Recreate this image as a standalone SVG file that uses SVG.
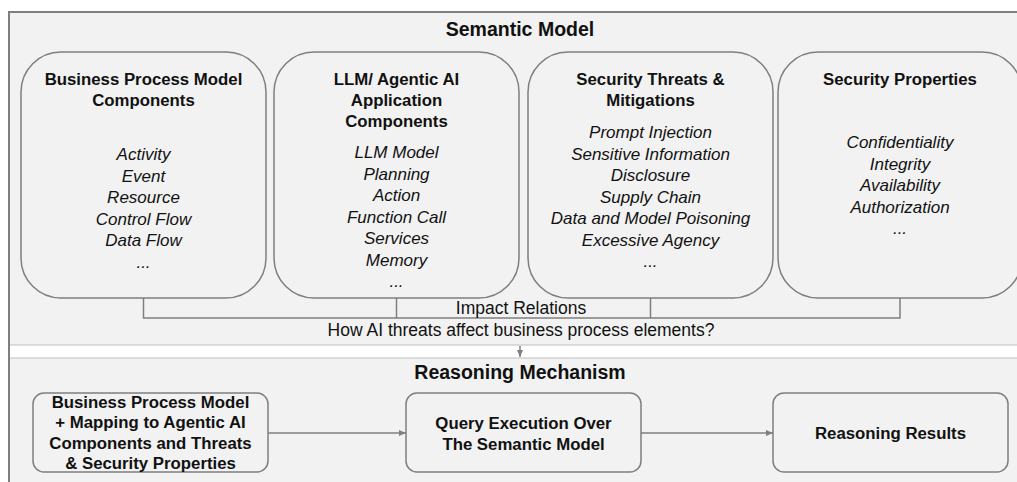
<svg xmlns="http://www.w3.org/2000/svg" width="1017" height="482" viewBox="0 0 1017 482">
<defs>
<style>
.bg{fill:#f2f2f2;stroke:#7f7f7f;stroke-width:2}
.box{fill:#f2f2f2;stroke:#7f7f7f;stroke-width:1.5}
.div{stroke:#bfbfbf;stroke-width:1.2;fill:none}
.ln{stroke:#7f7f7f;stroke-width:1.5;fill:none}
text{font-family:"Liberation Sans",Arial,sans-serif;fill:#111;text-anchor:middle}
.sec{font-size:19.5px;font-weight:bold}
.ttl{font-size:16.8px;font-weight:bold}
.it{font-size:17px;font-style:italic}
.lab{font-size:17.5px}
</style>
<marker id="ah" markerWidth="7" markerHeight="6" refX="7" refY="3" orient="auto" markerUnits="userSpaceOnUse">
<path d="M0,0 L7,3 L0,6 Z" fill="#7f7f7f"/>
</marker>
</defs>
<rect width="1017" height="482" fill="#ffffff"/>
<g id="semantic-model">
<rect class="bg" x="9" y="12" width="1020" height="480"/>
<rect x="10" y="345" width="1010" height="13" fill="#ffffff"/>
<line class="div" x1="10" y1="345" x2="1017" y2="345"/>
<line class="div" x1="10" y1="358" x2="1017" y2="358"/>
<line x1="9" y1="340" x2="9" y2="482" stroke="#7f7f7f" stroke-width="2"/>
<text class="sec" x="520" y="36">Semantic Model</text>
</g>
<g id="bpm-components">
<rect class="box" x="21" y="52" width="245" height="246" rx="40" ry="40"/>
<text class="ttl" x="143.5" y="85">Business Process Model</text>
<text class="ttl" x="143.5" y="106">Components</text>
<text class="it" x="143.5" y="160">Activity</text>
<text class="it" x="143.5" y="181.5">Event</text>
<text class="it" x="143.5" y="203">Resource</text>
<text class="it" x="143.5" y="224.5">Control Flow</text>
<text class="it" x="143.5" y="246">Data Flow</text>
<text class="it" x="143.5" y="267.5">...</text>
</g>
<g id="llm-components">
<rect class="box" x="274" y="52" width="245" height="246" rx="40" ry="40"/>
<text class="ttl" x="396.5" y="85">LLM/ Agentic AI</text>
<text class="ttl" x="396.5" y="106">Application</text>
<text class="ttl" x="396.5" y="127">Components</text>
<text class="it" x="396.5" y="158">LLM Model</text>
<text class="it" x="396.5" y="179.5">Planning</text>
<text class="it" x="396.5" y="201">Action</text>
<text class="it" x="396.5" y="222.5">Function Call</text>
<text class="it" x="396.5" y="244">Services</text>
<text class="it" x="396.5" y="265.5">Memory</text>
<text class="it" x="396.5" y="287">...</text>
</g>
<g id="threats">
<rect class="box" x="528" y="52" width="245" height="246" rx="40" ry="40"/>
<text class="ttl" x="650.5" y="85">Security Threats &amp;</text>
<text class="ttl" x="650.5" y="106">Mitigations</text>
<text class="it" x="650.5" y="138">Prompt Injection</text>
<text class="it" x="650.5" y="159.5">Sensitive Information</text>
<text class="it" x="650.5" y="181">Disclosure</text>
<text class="it" x="650.5" y="202.5">Supply Chain</text>
<text class="it" x="650.5" y="224">Data and Model Poisoning</text>
<text class="it" x="650.5" y="245.5">Excessive Agency</text>
<text class="it" x="650.5" y="267">...</text>
</g>
<g id="security-properties">
<rect class="box" x="778" y="52" width="244" height="246" rx="40" ry="40"/>
<text class="ttl" x="900" y="85">Security Properties</text>
<text class="it" x="900" y="148">Confidentiality</text>
<text class="it" x="900" y="169.5">Integrity</text>
<text class="it" x="900" y="191">Availability</text>
<text class="it" x="900" y="212.5">Authorization</text>
<text class="it" x="900" y="234">...</text>
</g>
<g id="reasoning-mechanism">
<text class="sec" x="520" y="379">Reasoning Mechanism</text>
</g>
<g id="bpm-mapping">
<rect class="box" x="33" y="393" width="235" height="79" rx="11" ry="11"/>
<text class="ttl" x="150.5" y="407.5">Business Process Model</text>
<text class="ttl" x="150.5" y="428">+ Mapping to Agentic AI</text>
<text class="ttl" x="150.5" y="448.5">Components and Threats</text>
<text class="ttl" x="150.5" y="469">&amp; Security Properties</text>
</g>
<g id="query-execution">
<rect class="box" x="406" y="393" width="235" height="79" rx="11" ry="11"/>
<text class="ttl" x="523.5" y="428.5">Query Execution Over</text>
<text class="ttl" x="523.5" y="449.5">The Semantic Model</text>
</g>
<g id="reasoning-results">
<rect class="box" x="773" y="393" width="235" height="79" rx="11" ry="11"/>
<text class="ttl" x="890.5" y="439">Reasoning Results</text>
</g>
<g id="connectors">
<polyline class="ln" points="143.5,298 143.5,318 900,318 900,298"/>
<line class="ln" x1="396.5" y1="298" x2="396.5" y2="318"/>
<line class="ln" x1="650.5" y1="298" x2="650.5" y2="318"/>
<text class="lab" x="521" y="314">Impact Relations</text>
<text class="lab" x="521" y="336">How AI threats affect business process elements?</text>
<line class="ln" x1="520" y1="346" x2="520" y2="357" marker-end="url(#ah)" stroke-width="1.2"/>
<line class="ln" x1="268" y1="433" x2="406" y2="433" marker-end="url(#ah)" stroke-width="1.2"/>
<line class="ln" x1="641" y1="433" x2="773" y2="433" marker-end="url(#ah)" stroke-width="1.2"/>
</g>
</svg>
